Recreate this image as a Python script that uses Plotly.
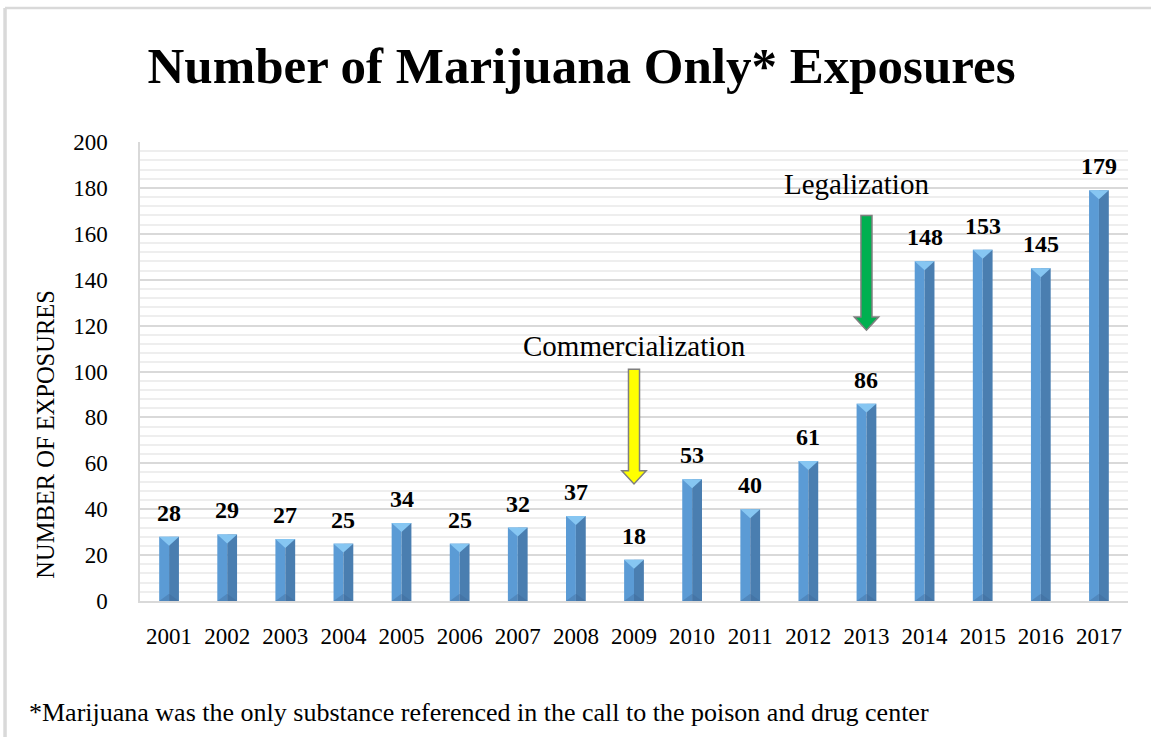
import plotly.graph_objects as go

years = list(range(2001, 2018))
exposures = [28, 29, 27, 25, 34, 25, 32, 37, 18, 53, 40, 61, 86, 148, 153, 145, 179]

arrow_years = [2009, 2013]
arrow_tops = [101, 168]
arrow_tips = [51, 118]
arrow_colors = ["#ffff00", "#00b050"]
arrow_labels = ["Commercialization", "Legalization"]
label_values = [111, 181.5]
label_shift = [0, -10]

SERIF = "Liberation Serif, Times New Roman, serif"
HALF = 0.17          # half bar width (category units)
BEVEL = 3.9          # bevel depth (value units)

fig = go.Figure()

# left (lit) face and right (shaded) face of each bevelled column
fig.add_trace(go.Bar(x=years, y=exposures, width=HALF, offset=-HALF,
                     marker=dict(color="#5b9bd5", line_width=0), hoverinfo="skip"))
fig.add_trace(go.Bar(x=years, y=exposures, width=HALF, offset=0,
                     marker=dict(color="#4a7eb0", line_width=0), hoverinfo="skip"))

# top and bottom bevel triangles
tx, ty, bx, by = [], [], [], []
for x, v in zip(years, exposures):
    tx += [x - HALF, x + HALF, x, x - HALF, None]
    ty += [v, v, v - BEVEL, v, None]
    bx += [x - HALF, x + HALF, x, x - HALF, None]
    by += [0, 0, BEVEL * 0.8, 0, None]
fig.add_trace(go.Scatter(x=tx, y=ty, mode="lines", fill="toself", fillcolor="#86c6f2",
                         line=dict(width=0), hoverinfo="skip"))
fig.add_trace(go.Scatter(x=bx, y=by, mode="lines", fill="toself", fillcolor="rgba(60,100,150,0.35)",
                         line=dict(width=0), hoverinfo="skip"))

# value labels
for x, v in zip(years, exposures):
    fig.add_annotation(x=x, y=v, text=f"<b>{v}</b>", showarrow=False, yshift=24,
                       font=dict(family=SERIF, size=24, color="#000000"))

# block arrows and their captions
SHAFT = 0.095
HEAD = 0.21
HEAD_H = 5.8
for x, top, tip, col, lab, ly, sh in zip(arrow_years, arrow_tops, arrow_tips, arrow_colors,
                                         arrow_labels, label_values, label_shift):
    neck = tip + HEAD_H
    path = (f"M {x - SHAFT} {top} L {x + SHAFT} {top} L {x + SHAFT} {neck} "
            f"L {x + HEAD} {neck} L {x} {tip} L {x - HEAD} {neck} L {x - SHAFT} {neck} Z")
    fig.add_shape(type="path", path=path, xref="x", yref="y", fillcolor=col,
                  line=dict(color="#7f7f7f", width=1.5), layer="above")
    fig.add_annotation(x=x, y=ly, text=lab, showarrow=False, xshift=sh,
                       font=dict(family=SERIF, size=29, color="#000000"))

# y axis title and footnote
fig.add_annotation(xref="paper", yref="paper", x=-0.111, y=0.364, text="NUMBER OF EXPOSURES",
                   textangle=-90, showarrow=False, font=dict(family=SERIF, size=24.5, color="#000000"))
fig.add_annotation(xref="paper", yref="paper", x=-0.1144, y=-0.279, xanchor="left",
                   text="*Marijuana was the only substance referenced in the call to the poison and drug center",
                   showarrow=False, font=dict(family=SERIF, size=26, color="#000000"))

# chart-area border (left and top edges)
fig.add_shape(type="line", xref="paper", yref="paper", x0=-0.1366, x1=-0.1366, y0=1.292, y1=-0.3,
              line=dict(color="#d9d9d9", width=3.5))
fig.add_shape(type="line", xref="paper", yref="paper", x0=-0.1366, x1=1.03, y0=1.292, y1=1.292,
              line=dict(color="#d9d9d9", width=2.5))

fig.update_layout(
    width=1151,
    height=737,
    margin=dict(l=140, r=23, t=142, b=136),
    paper_bgcolor="#ffffff",
    plot_bgcolor="#ffffff",
    barmode="overlay",
    showlegend=False,
    title=dict(text="<b>Number of Marijuana Only* Exposures</b>", x=0.5052, xanchor="center",
               y=0.912, yanchor="middle", font=dict(family=SERIF, size=51, color="#000000")),
    font=dict(family=SERIF, color="#000000"),
)
fig.update_xaxes(
    range=[2000.5, 2017.5], tickvals=years, ticktext=[str(y) for y in years],
    tickfont=dict(size=23), showgrid=False, showline=True, linecolor="#d9d9d9", linewidth=1.5,
    ticks="", ticklabelstandoff=14, zeroline=False,
)
fig.update_yaxes(
    range=[0, 200], dtick=20, tickfont=dict(size=23), showline=True, linecolor="#d9d9d9",
    linewidth=1.5, gridcolor="#d9d9d9", gridwidth=1.5, zeroline=False, ticks="",
    ticklabelstandoff=26,
    minor=dict(dtick=4, showgrid=True, gridcolor="#eeeeee", gridwidth=1.5),
)

fig.write_html("out.html", config={"displayModeBar": False},
               post_script="document.body.style.margin = '0';")
